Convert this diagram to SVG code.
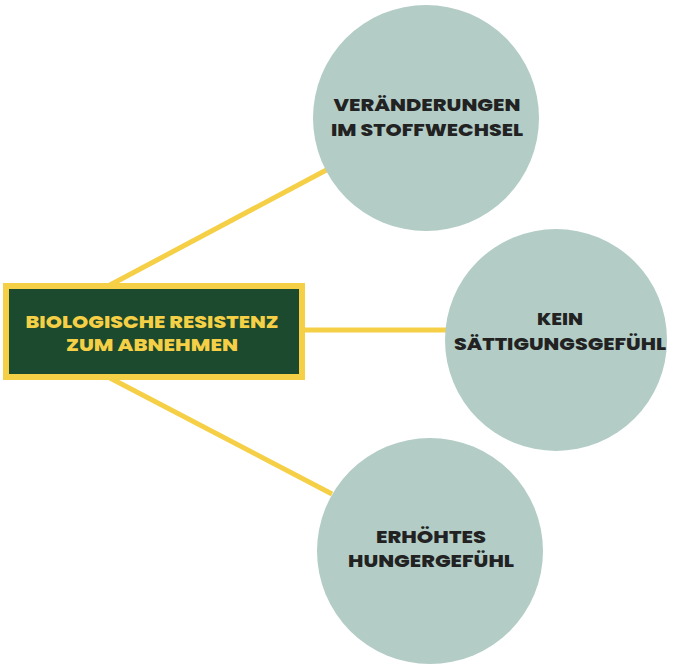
<svg xmlns="http://www.w3.org/2000/svg" width="680" height="664" viewBox="0 0 680 664">
<style>
.c{fill:#b3cdc6}
.t{font-family:Poppins,"Open Sans","Liberation Sans",sans-serif;font-weight:800;font-size:18px;fill:#222;text-anchor:middle}
.y{font-family:Poppins,"Open Sans","Liberation Sans",sans-serif;font-weight:800;font-size:18px;fill:#f5d046;text-anchor:middle}
.l{stroke:#f5cf45;stroke-width:5;fill:none}
</style>
<rect width="680" height="664" fill="#fff"/>
<g id="connectors">
<line class="l" x1="110" y1="285" x2="332" y2="167"/>
<line class="l" x1="303" y1="330" x2="456" y2="330"/>
<line class="l" x1="110" y1="378" x2="332" y2="494"/>
</g>
<g id="n1"><circle class="c" cx="426" cy="118" r="113"/>
<text class="t" x="427" y="111" textLength="187" lengthAdjust="spacingAndGlyphs">VERÄNDERUNGEN</text><text class="t" x="427" y="136" textLength="192" lengthAdjust="spacingAndGlyphs">IM STOFFWECHSEL</text></g>
<g id="n2"><circle class="c" cx="556" cy="340" r="111"/>
<text class="t" x="560" y="325" textLength="46" lengthAdjust="spacingAndGlyphs">KEIN</text><text class="t" x="560" y="350" textLength="212" lengthAdjust="spacingAndGlyphs">SÄTTIGUNGSGEFÜHL</text></g>
<g id="n3"><circle class="c" cx="430" cy="551" r="113"/>
<text class="t" x="431" y="543" textLength="110" lengthAdjust="spacingAndGlyphs">ERHÖHTES</text><text class="t" x="431" y="567" textLength="166" lengthAdjust="spacingAndGlyphs">HUNGERGEFÜHL</text></g>
<g id="center"><rect x="6" y="286" width="296" height="91" fill="#1b4a2e" stroke="#f5cf45" stroke-width="6"/>
<text class="y" x="152" y="328" textLength="253" lengthAdjust="spacingAndGlyphs">BIOLOGISCHE RESISTENZ</text><text class="y" x="152" y="351" textLength="172" lengthAdjust="spacingAndGlyphs">ZUM ABNEHMEN</text></g>
</svg>
